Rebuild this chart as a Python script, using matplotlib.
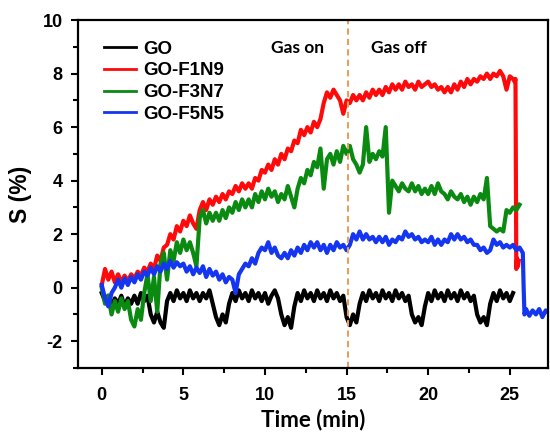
import numpy as np
import matplotlib
matplotlib.use("Agg")
import matplotlib.pyplot as plt

plt.rcParams["axes.unicode_minus"] = False

# sampling grid of the traces (min)
T0, DT = 0.0, 0.2

go = [-0.2, -0.5, -0.3, -0.7, -0.4, -0.6, -0.3, -0.7, -0.4, -0.6,
      -0.3, -0.6, -0.2, -0.5, -0.3, -1.0, -1.3, -0.9, -1.3, -1.5,
      -0.5, -0.2, -0.5, -0.1, -0.4, -0.2, -0.5, -0.1, -0.4, -0.2,
      -0.5, -0.2, -0.4, -0.1, -0.6, -1.1, -1.4, -1.0, -1.3, -0.6,
      -0.2, -0.5, -0.1, -0.4, -0.2, -0.5, -0.1, -0.4, -0.2, -0.5,
      -0.2, -0.6, -0.3, -0.1, -0.4, -1.0, -1.4, -1.1, -1.5, -0.7,
      -0.2, -0.5, -0.1, -0.4, -0.2, -0.5, -0.1, -0.4, -0.2, -0.5,
      -0.1, -0.4, -0.2, -0.5, -0.3, -1.1, -1.4, -1.0, -1.3, -0.6,
      -0.2, -0.5, -0.1, -0.4, -0.2, -0.5, -0.1, -0.4, -0.2, -0.5,
      -0.1, -0.4, -0.2, -0.5, -0.3, -1.0, -1.3, -1.1, -1.4, -0.7,
      -0.2, -0.5, -0.1, -0.4, -0.2, -0.5, -0.1, -0.4, -0.2, -0.5,
      -0.1, -0.4, -0.2, -0.5, -0.3, -1.0, -1.3, -1.1, -1.4, -0.6,
      -0.2, -0.5, -0.1, -0.4, -0.2, -0.5, -0.2]

f1n9 = [0.1, 0.7, 0.3, 0.6, 0.2, 0.5, 0.2, 0.45, 0.25, 0.5,
        0.35, 0.6, 0.45, 0.75, 0.6, 0.9, 0.7, 1.2, 1.0, 1.5,
        1.6, 2.0, 1.8, 2.3, 2.1, 2.5, 2.3, 2.7, 2.4, 2.2,
        2.9, 3.2, 2.9, 3.3, 3.1, 3.4, 3.2, 3.5, 3.3, 3.6,
        3.5, 3.8, 3.6, 3.9, 3.7, 3.9, 3.7, 4.1, 4.0, 4.4,
        4.3, 4.6, 4.4, 4.8, 4.6, 5.0, 4.8, 5.2, 5.1, 5.5,
        5.4, 5.9, 5.7, 6.0, 5.8, 6.2, 6.0, 6.3, 6.9, 7.3,
        7.1, 7.4, 7.2, 7.0, 6.5, 7.0, 6.9, 7.2, 7.0, 7.2,
        7.0, 7.3, 7.1, 7.4, 7.2, 7.4, 7.2, 7.5, 7.3, 7.6,
        7.4, 7.6, 7.4, 7.7, 7.5, 7.6, 7.4, 7.7, 7.5, 7.6,
        7.7, 7.5, 7.6, 7.4, 7.5, 7.3, 7.5, 7.3, 7.6, 7.4,
        7.7, 7.5, 7.8, 7.6, 7.8, 7.7, 7.9, 7.8, 8.0, 7.8,
        8.0, 7.9, 8.1, 7.9, 7.4, 7.9, 7.8]
f1n9_tail_t = [25.3, 25.35, 25.4, 25.45, 25.5, 25.55]
f1n9_tail = [7.7, 7.8, 0.7, 1.1, 0.8, 1.0]

f3n7 = [0.0, -0.6, -0.3, -1.0, -0.5, -0.9, -0.4, -0.8, -0.5, -1.2,
        -1.45, -0.8, -1.2, -0.2, 0.5, -0.5, 0.4, -0.9, 0.9, 1.3,
        0.3, 1.4, 1.0, 1.7, 1.3, 1.8, 1.4, 1.7, 1.3, 0.8,
        2.6, 2.9, 2.4, 2.8, 2.5, 2.8, 2.5, 2.9, 2.6, 3.0,
        2.8, 3.2, 2.9, 3.3, 3.0, 3.3, 3.0, 3.5, 3.2, 3.6,
        3.3, 3.7, 3.4, 3.6, 3.2, 3.5, 3.3, 3.8, 3.4, 3.0,
        3.7, 4.1, 3.9, 4.4, 4.2, 4.7, 4.5, 5.2, 3.7, 4.8,
        5.0, 4.6, 5.1, 4.7, 5.3, 5.0, 5.3, 4.8, 4.6, 4.3,
        4.6, 6.0, 4.7, 5.0, 4.8, 5.1, 4.9, 6.0, 2.8, 4.0,
        3.8, 3.6, 3.9, 3.7, 3.6, 3.9, 3.6, 3.8, 3.5, 3.7,
        3.5, 3.8, 3.5, 3.9, 3.6, 3.5, 3.3, 3.6, 3.4, 3.3,
        3.5, 3.2, 3.4, 3.1, 3.4, 3.2, 3.5, 3.3, 4.1, 2.3,
        2.2, 2.1, 2.2, 2.1, 2.9, 2.8, 3.0, 2.9, 3.1]

f5n5 = [0.1, -0.4, -0.7, -0.2, 0.0, 0.3, 0.0, 0.35, 0.1, 0.4,
        0.2, 0.5, 0.3, 0.6, 0.45, 0.75, 0.5, 0.8, 0.6, 0.9,
        0.7, 1.0, 0.75, 0.95, 0.8, 0.9, 0.6, 0.8, 0.5, 0.75,
        0.55, 0.8, 0.4, 0.7, 0.45, 0.6, 0.3, 0.5, 0.2, 0.4,
        0.3, -0.2, 0.5, 0.7, 0.9, 0.8, 1.1, 0.9, 1.3, 1.5,
        1.4, 1.7, 1.3, 1.5, 1.2, 1.1, 1.3, 1.1, 1.4, 1.2,
        1.5, 1.3, 1.6, 1.4, 1.7, 1.5, 1.7, 1.4, 1.6, 1.3,
        1.6, 1.4, 1.7, 1.5, 1.6, 1.4, 1.6, 2.0, 1.8, 2.1,
        1.8, 2.0, 1.8, 1.9, 1.7, 1.9, 1.7, 1.9, 1.6, 1.8,
        1.7, 1.9, 1.8, 2.1, 1.9, 2.0, 1.8, 1.9, 1.7, 1.8,
        1.7, 1.9, 1.6, 1.8, 1.6, 1.8, 1.7, 2.0, 1.8, 2.0,
        1.8, 1.9, 1.7, 1.8, 1.6, 1.6, 1.4, 1.5, 1.3, 1.4,
        1.8, 1.6, 1.7, 1.5, 1.6, 1.5, 1.6, 1.4, 1.5, 1.3]
f5n5_tail_t = [25.85, 25.9, 26.0, 26.2, 26.4, 26.6, 26.8, 27.0, 27.2, 27.4]
f5n5_tail = [0.0, -1.0, -0.8, -1.05, -0.85, -1.0, -0.8, -1.1, -0.85, -0.95]

GAS_SWITCH = 15.1

def grid(vals):
    return T0 + DT * np.arange(len(vals))

series = [
    ("GO", grid(go), np.array(go), "#000000"),
    ("GO-F1N9", np.r_[grid(f1n9), f1n9_tail_t], np.r_[f1n9, f1n9_tail], "#ff0a0a"),
    ("GO-F3N7", grid(f3n7), np.array(f3n7), "#0b8a12"),
    ("GO-F5N5", np.r_[grid(f5n5), f5n5_tail_t], np.r_[f5n5, f5n5_tail], "#1436f0"),
]

fig = plt.figure(figsize=(5.5, 4.37), dpi=100)
ax = fig.add_axes([0.142, 0.158, 0.854, 0.796])
for name, t, v, c in series:
    ax.plot(t, v, c=c, lw=3.0, label=name)
ax.axvline(GAS_SWITCH, c="#e3a15c", lw=1.5, ls=(0, (3, 2)))

ax.set_xlim(-1.45, 27.33)
ax.set_ylim(-3, 10)
ax.set_xticks([0, 5, 10, 15, 20, 25])
ax.set_xticks([2.5, 7.5, 12.5, 17.5, 22.5], minor=True)
ax.set_yticks([-2, 0, 2, 4, 6, 8, 10])
ax.set_yticks([-3, -1, 1, 3, 5, 7, 9], minor=True)
ax.tick_params(which="major", direction="out", length=5, width=1.5, pad=6)
ax.tick_params(axis="x", which="major", pad=9)
ax.tick_params(which="minor", direction="out", length=3.5, width=1.5)
for s in ax.spines.values():
    s.set_linewidth(1.6)
for lab in ax.get_xticklabels() + ax.get_yticklabels():
    lab.set_fontweight("bold"); lab.set_fontsize(13); lab.set_family("Liberation Sans")

ax.set_xlabel("Time (min)", fontsize=16, fontweight="bold", family="Lato", labelpad=3)
ax.set_ylabel("S (%)", fontsize=16.5, fontweight="bold", family="Liberation Sans", labelpad=8)

ax.text(12.0, 8.95, "Gas on", fontsize=12.5, fontweight="bold", family="Lato",
        ha="center", va="center")
ax.text(18.2, 8.95, "Gas off", fontsize=12.5, fontweight="bold", family="Lato",
        ha="center", va="center")

leg = ax.legend(loc="upper left", bbox_to_anchor=(0.02, 0.99), frameon=False,
                handlelength=1.7, handletextpad=0.4, labelspacing=0.25,
                prop={"family": "Liberation Sans", "weight": "bold", "size": 13.5})
for h in leg.get_lines():
    h.set_linewidth(2)

fig.savefig("out.png", dpi=100)
